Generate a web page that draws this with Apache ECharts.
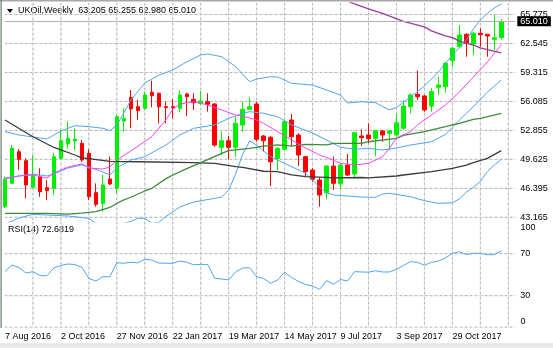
<!DOCTYPE html>
<html><head><meta charset="utf-8">
<script src="https://cdn.jsdelivr.net/npm/echarts@6/dist/echarts.min.js"></script>
<style>html,body{margin:0;padding:0;background:#fff}#c{width:553px;height:348px}</style>
</head><body><div id="c"></div>
<script>
const symbolName = 'UKOil,Weekly';
const dateLabels = ['7 Aug 2016','2 Oct 2016','27 Nov 2016','22 Jan 2017','19 Mar 2017','14 May 2017','9 Jul 2017','3 Sep 2017','29 Oct 2017'];
const priceTicks = [43.165, 46.395, 49.625, 52.855, 56.085, 59.315, 62.545, 65.775];
const rsiGridTicks = [0, 30, 70];
const rsiLabelTicks = [30, 70];

// weekly candles: [open, close, low, high]
const ohlc = [
[44.35,47.40,44.20,47.70],[46.95,50.85,46.90,51.22],[50.48,49.63,48.44,50.75],[49.47,46.77,45.28,49.74],
[46.51,47.88,46.40,50.11],[47.69,46.02,45.46,48.63],[46.47,46.13,45.09,47.32],[46.40,49.92,45.65,50.30],
[49.74,51.70,49.60,52.90],[51.34,51.97,50.85,53.82],[51.67,51.86,50.67,53.09],[51.41,49.55,49.36,51.78],
[50.30,45.46,45.09,50.75],[45.91,44.61,44.35,46.95],[44.72,46.77,43.79,47.88],[47.44,46.88,46.77,49.92],
[46.40,54.38,45.84,54.57],[53.90,54.20,52.71,55.32],[56.54,55.24,53.09,57.36],[55.50,55.05,54.01,56.24],
[55.32,56.80,55.13,57.17],[57.10,56.72,55.43,58.39],[56.99,55.50,53.64,57.06],[55.50,55.38,53.64,56.05],
[55.50,55.38,54.20,56.32],[55.32,56.80,54.87,57.28],[56.91,56.61,54.46,57.06],[56.32,55.94,55.13,56.99],
[55.87,56.13,55.68,57.25],[56.05,55.76,54.94,56.99],[55.80,51.22,51.04,55.87],[50.97,51.70,50.11,52.71],
[51.70,50.97,49.63,52.23],[50.97,53.64,49.92,54.38],[53.45,55.21,52.71,56.05],[55.21,55.50,55.13,56.54],
[55.80,51.86,51.59,56.05],[52.23,51.70,50.50,52.34],[52.08,49.36,46.65,52.23],[49.74,50.85,48.44,50.97],
[50.75,53.82,50.59,53.93],[54.01,52.15,51.11,54.68],[52.34,50.11,48.88,52.53],[49.92,48.25,47.77,50.00],
[48.44,47.40,47.13,48.63],[47.32,45.65,44.35,47.62],[45.91,48.88,45.17,48.96],[48.88,46.95,46.21,49.92],
[46.95,48.99,46.29,49.11],[48.99,47.88,47.77,50.22],[47.99,52.60,47.62,52.71],[52.23,52.04,51.11,52.97],
[52.34,51.93,51.41,53.64],[51.97,52.82,49.99,52.82],[52.79,52.34,51.59,52.90],[52.53,52.79,50.67,52.90],
[52.34,53.71,52.15,54.76],[53.09,55.57,52.90,56.24],[55.50,56.80,54.76,56.99],[56.88,56.61,56.24,59.51],
[56.69,55.13,54.94,56.80],[55.57,57.17,54.94,57.55],[57.66,57.92,56.80,58.84],[57.73,60.33,57.06,60.51],
[60.63,62.01,59.96,62.19],[62.19,63.49,62.01,64.60],[63.57,62.56,61.07,63.68],[62.49,63.68,61.26,63.86],
[63.68,63.52,62.19,64.24],[63.57,63.38,61.07,63.60],[63.01,63.19,61.82,65.72],[63.205,65.010,62.980,65.255]
];

const rsi14 = [53.0,59.2,56.9,51.6,52.9,49.2,49.0,56.4,58.8,60.2,59.7,56.9,46.4,44.0,48.1,48.1,
61.4,60.9,61.8,61.3,64.7,64.0,61.1,60.9,60.9,63.0,61.8,59.4,59.9,59.7,46.6,45.9,45.0,52.6,56.4,56.7,
48.1,46.4,41.8,45.0,52.3,47.3,43.5,40.7,39.2,36.1,44.3,40.9,45.4,44.0,52.9,52.6,52.4,53.8,52.6,52.6,
55.0,58.8,62.4,61.8,59.0,61.8,63.0,65.9,70.4,71.8,69.2,70.4,70.4,69.0,69.1,72.6819];

// indicator lines: [week index, price]
const bbUpper = [[0,52.71],[2,52.34],[4,52.12],[6,51.89],[8,52.79],[10,53.38],[12,53.27],[14,53.09],[15,52.82],[16,53.45],[17,54.79],[18,56.24],[20,58.14],[22,59.0],[24,59.59],[26,60.5],[28,61.26],[29,61.37],[31,61.07],[33,59.96],[35,58.28],[36,58.58],[38,58.84],[39,58.81],[41,58.10],[44,57.91],[46,57.36],[48,56.80],[49,55.91],[51,56.05],[53,55.94],[55,55.13],[56,55.40],[58,56.58],[60,57.80],[62,59.36],[64,61.26],[65,62.04],[66,62.93],[67,64.16],[68,65.16],[69,65.89],[70,66.50],[71,66.95]];
const bbMiddle = [[0,47.55],[2,47.77],[4,47.99],[6,47.77],[7,47.99],[9,48.66],[11,49.0],[12,48.77],[14,48.22],[15,47.88],[16,48.66],[18,49.55],[20,49.92],[23,51.22],[25,52.34],[27,53.09],[30,53.46],[32,54.20],[34,54.76],[35,54.94],[37,54.76],[39,54.38],[41,53.46],[44,52.56],[46,51.78],[48,50.97],[50,50.75],[52,50.86],[54,50.67],[56,50.89],[58,51.22],[61,51.59],[63,52.4],[64,53.2],[65,54.0],[66,54.75],[67,55.5],[68,56.3],[69,57.1],[70,57.8],[71,58.47]];
const bbLower = [[0,42.4],[2,43.08],[4,43.5],[6,43.42],[9,43.31],[12,43.05],[13,42.5],[16,42.3],[18,42.7],[19,43.05],[20,43.05],[21,42.5],[22,42.6],[23,43.23],[25,44.31],[27,44.87],[30,45.28],[31,45.43],[32,46.21],[33,48.0],[34,50.2],[35,51.67],[36,51.22],[37,50.56],[38,49.92],[40,49.18],[43,48.07],[44,47.32],[45,46.5],[46,45.9],[47,45.65],[51,45.42],[53,45.39],[54,45.76],[55,45.84],[58,45.46],[60,45.02],[62,44.72],[64,44.79],[65,45.21],[66,45.98],[67,46.5],[68,47.16],[69,48.27],[70,48.99],[71,49.61]];
const ma10 = [[0,47.43],[2,47.77],[4,47.88],[6,47.54],[7,48.10],[9,48.77],[11,49.11],[12,48.66],[14,48.55],[15,48.77],[16,49.55],[18,50.56],[21,52.15],[23,54.01],[24,55.2],[25,55.8],[27,56.05],[29,55.68],[31,55.13],[33,54.57],[35,54.24],[36,54.01],[37,53.64],[39,52.71],[41,51.78],[43,50.89],[45,50.11],[46,49.83],[48,49.18],[50,49.00],[52,49.18],[54,49.92],[55,50.86],[56,52.01],[58,52.71],[59,53.45],[61,54.57],[63,55.68],[65,57.13],[67,58.81],[69,60.48],[71,62.4]];
const maGreen = [[0,43.61],[6,43.61],[9,43.53],[11,43.64],[13,43.79],[15,44.26],[16,44.73],[17,45.1],[18,45.4],[20,46.1],[21,46.40],[23,47.45],[24,47.88],[26,48.6],[29,49.6],[31,50.30],[32,50.6],[35,50.86],[37,51.11],[39,51.23],[41,51.1],[43,51.30],[46,51.25],[47,51.41],[51,51.41],[52,51.59],[56,51.97],[57,52.3],[60,52.71],[63,53.27],[64,53.46],[65,53.64],[67,54.09],[68,54.20],[71,54.76]];
const maBlack = [[0,54.01],[4,52.15],[7,50.95],[10,50.11],[11,49.8],[12,49.7],[15,49.4],[19,49.36],[27,49.25],[30,49.18],[33,48.81],[34,48.74],[37,48.3],[39,48.25],[41,47.9],[43,47.69],[46,47.62],[47,47.55],[51,47.6],[52,47.55],[56,47.77],[57,47.88],[61,48.25],[64,48.63],[66,48.99],[67,49.25],[69,49.74],[71,50.6]];
const maPurple = [[48,67.6],[50,66.95],[52,66.4],[54,65.9],[57,65.0],[60,64.4],[61,63.95],[63,63.4],[64,63.2],[65,62.8],[67,62.37],[68,62.05],[69,61.85],[71,61.5]];

const FONT = "'Liberation Sans', Arial, sans-serif";
const N = ohlc.length;
const cats = [];
for (let i = 0; i < N + 2; i++) cats.push(String(i));
const gridCols = [];
for (let i = 4; i < N + 2; i += 4) gridCols.push(String(i));
const last = ohlc[N - 1];
const PMIN = 42.641, PMAX = 67.057;

function lineS(data, color, width) {
  return {type: 'line', xAxisIndex: 0, yAxisIndex: 0, data: data, symbol: 'none', silent: true,
    animation: false, lineStyle: {color: color, width: width}, z: 3};
}
// grid drawn as line series through the library's scales: a faint solid base with dots over it
function gridLines(ax, rows, lo, hi) {
  const out = [];
  const segs = rows.map(function (v) { return [['0', v], [cats[cats.length - 1], v]]; })
    .concat(gridCols.map(function (c) { return [[c, hi], [c, lo]]; }));
  segs.forEach(function (d) {
    out.push({type: 'line', xAxisIndex: ax, yAxisIndex: ax, data: d, symbol: 'none', silent: true,
      animation: false, z: 1, lineStyle: {color: '#e1e1e1', width: 1, type: 'solid'}});
    out.push({type: 'line', xAxisIndex: ax, yAxisIndex: ax, data: d, symbol: 'none', silent: true,
      animation: false, z: 1, lineStyle: {color: '#b4b4b4', width: 1, type: [2, 3]}});
  });
  return out;
}

const series = [].concat(
  gridLines(0, priceTicks, PMIN, PMAX),
  gridLines(1, rsiGridTicks, 0, 100),
  [
    {type: 'candlestick', xAxisIndex: 0, yAxisIndex: 0, data: ohlc, barWidth: 4, silent: true, z: 2,
      itemStyle: {color: '#00f000', color0: '#ff0000', borderColor: '#00f000', borderColor0: '#ff0000', borderWidth: 1},
      markLine: {silent: true, symbol: 'none', animation: false,
        lineStyle: {color: '#b0b0b0', type: 'solid', width: 1},
        label: {show: true, position: 'end', distance: 2, formatter: last[1].toFixed(3),
          backgroundColor: '#000', color: '#fff', padding: [1, 3, 0, 3], fontSize: 9, fontFamily: FONT},
        data: [{yAxis: last[1]}]}},
    lineS(bbUpper, '#4ea5f2', 1),
    lineS(bbMiddle, '#4ea5f2', 1),
    lineS(bbLower, '#4ea5f2', 1),
    lineS(maBlack, '#3a3a3a', 1.3),
    lineS(maGreen, '#3d8a3d', 1.3),
    lineS(ma10, '#ff44f0', 1),
    lineS(maPurple, '#9a3c9a', 1.3),
    {type: 'line', xAxisIndex: 1, yAxisIndex: 1, data: rsi14, symbol: 'none', silent: true, z: 3,
      lineStyle: {color: '#4ea5f2', width: 1}}
  ]
);

const chart = echarts.init(document.getElementById('c'));
chart.setOption({
  animation: false,
  backgroundColor: '#ffffff',
  grid: [
    {left: 5, right: 37.7, top: 3, height: 219},
    {left: 5, right: 37.7, top: 222.2, height: 105}
  ],
  xAxis: [
    {type: 'category', gridIndex: 0, data: cats, boundaryGap: false,
      axisLine: {show: false}, axisTick: {show: false}, axisLabel: {show: false}, splitLine: {show: false}},
    {type: 'category', gridIndex: 1, data: cats, boundaryGap: false,
      axisLine: {show: false}, axisTick: {show: false}, splitLine: {show: false},
      axisLabel: {show: true, interval: function (i) { return i % 8 === 0 && i / 8 < dateLabels.length; },
        formatter: function (v, i) { return dateLabels[Math.round(i / 8)] || ''; },
        align: 'left', margin: 5, color: '#000', fontSize: 9, fontFamily: FONT}}
  ],
  yAxis: [
    {type: 'value', gridIndex: 0, position: 'right', min: PMIN, max: PMAX, scale: true,
      axisLine: {show: false}, axisTick: {show: false, customValues: priceTicks}, splitLine: {show: false},
      axisLabel: {customValues: priceTicks, formatter: function (v) { return v.toFixed(3); },
        margin: 5, color: '#000', fontSize: 9, fontFamily: FONT}},
    {type: 'value', gridIndex: 1, position: 'right', min: 0, max: 100,
      axisLine: {show: false}, axisTick: {show: false, customValues: rsiGridTicks}, splitLine: {show: false},
      axisLabel: {customValues: rsiLabelTicks, margin: 5, color: '#000', fontSize: 9, fontFamily: FONT}}
  ],
  series: series,
  graphic: [
    {type: 'rect', shape: {x: 0, y: 0, width: 553, height: 1.5}, style: {fill: '#a8a8a8'}, silent: true},
    {type: 'rect', shape: {x: 0.5, y: 0, width: 1.2, height: 328}, style: {fill: '#6b7a6b'}, silent: true},
    {type: 'polygon', shape: {points: [[7, 9], [13, 9], [10, 13]]}, style: {fill: '#000'}, silent: true},
    {type: 'text', x: 18, y: 11, silent: true, style: {
      text: symbolName + '  ' + last[0].toFixed(3) + ' ' + last[3].toFixed(3) + ' ' + last[2].toFixed(3) + ' ' + last[1].toFixed(3),
      font: '9px ' + FONT, fill: '#000', align: 'left', verticalAlign: 'middle'}},
    {type: 'text', x: 8, y: 229.5, silent: true, style: {
      text: 'RSI(14) ' + rsi14[rsi14.length - 1].toFixed(4), font: '9px ' + FONT, fill: '#000', align: 'left', verticalAlign: 'middle'}},
    {type: 'text', x: 520.5, y: 227.5, silent: true, style: {text: '100', font: '9px ' + FONT, fill: '#000', align: 'left', verticalAlign: 'middle'}},
    {type: 'text', x: 520.5, y: 321.5, silent: true, style: {text: '0', font: '9px ' + FONT, fill: '#000', align: 'left', verticalAlign: 'middle'}},
    {type: 'rect', shape: {x: 0, y: 344, width: 553, height: 4}, style: {fill: '#ececec'}, silent: true},
    {type: 'rect', shape: {x: 0, y: 343.5, width: 553, height: 0.8}, style: {fill: '#d6d6d6'}, silent: true}
  ]
});
</script>
</body></html>
